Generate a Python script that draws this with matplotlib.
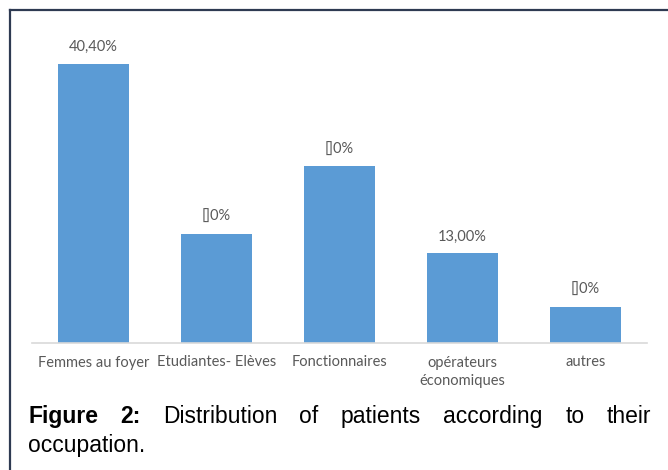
import matplotlib
matplotlib.use("Agg")
import matplotlib.pyplot as plt
from matplotlib.lines import Line2D

# ─── DATA ─────────────────────────────────────────────────────────────────────

categories = ["Femmes au foyer", "Etudiantes- Elèves", "Fonctionnaires",
              "opérateurs\néconomiques", "autres"]
values     = [40.4, 15.8, 25.6, 13.0, 5.2]
labels     = ["40,40%", "[]0%", "[]0%", "13,00%", "[]0%"]

caption_line1 = ["Figure", "2:", "Distribution", "of", "patients", "according", "to", "their"]
caption_line2 = "occupation."

# ─── STYLE ────────────────────────────────────────────────────────────────────

BAR_COLOR   = "#5B9BD5"
TEXT_COLOR  = "#595959"
AXIS_COLOR  = "#D9D9D9"
FRAME_COLOR = "#2E3A52"
CHART_FONT  = "Lato"
W, H, DPI   = 668, 470, 100

fig = plt.figure(figsize=(W / DPI, H / DPI), dpi=DPI)
fig.patch.set_facecolor("white")

# axes placed in pixel terms: baseline at y=343, x from 32 to 647
ymax = 45
ax = fig.add_axes([32 / W, (H - 343) / H, 615 / W, (ymax * 6.906) / H])

x = range(len(categories))
bars = ax.bar(x, values, width=0.57, color=BAR_COLOR, zorder=2)

for rect, lab in zip(bars, labels):
    ax.annotate(lab, (rect.get_x() + rect.get_width() / 2, rect.get_height()),
                xytext=(0, 7), textcoords="offset points",
                ha="center", va="bottom", fontsize=10.5,
                family=CHART_FONT, color=TEXT_COLOR)

ax.set_xlim(-0.5, len(categories) - 0.5)
ax.set_ylim(0, ymax)
ax.set_xticks(list(x))
ax.set_xticklabels(categories, fontsize=10.5, family=CHART_FONT,
                   color=TEXT_COLOR, linespacing=1.4)
ax.tick_params(axis="x", length=0, pad=9)
ax.set_yticks([])
for side in ["left", "right", "top"]:
    ax.spines[side].set_visible(False)
ax.spines["bottom"].set_color(AXIS_COLOR)
ax.spines["bottom"].set_linewidth(1.2)

# frame lines (top and left)
fig.add_artist(Line2D([9.5 / W, 1], [1 - 10 / H, 1 - 10 / H],
                      transform=fig.transFigure, color=FRAME_COLOR, lw=1.6))
fig.add_artist(Line2D([9.5 / W, 9.5 / W], [0, 1 - 10 / H],
                      transform=fig.transFigure, color=FRAME_COLOR, lw=1.6))

# ─── CAPTION (justified first line) ───────────────────────────────────────────

cap_font = dict(family="Liberation Sans", fontsize=16.5, color="black")
left_px, right_px = 28, 651
y1 = 1 - 423 / H
y2 = 1 - 452 / H

words = []
for i, w in enumerate(caption_line1):
    t = fig.text(0, y1, w, ha="left", va="baseline",
                 fontweight="bold" if i < 2 else "normal", **cap_font)
    words.append(t)

fig.canvas.draw()
renderer = fig.canvas.get_renderer()
widths = [t.get_window_extent(renderer).width for t in words]
gap = (right_px - left_px - sum(widths)) / (len(words) - 1)
pos = left_px
for t, wd in zip(words, widths):
    t.set_x(pos / W)
    pos += wd + gap

fig.text(left_px / W, y2, caption_line2, ha="left", va="baseline", **cap_font)

fig.savefig("out.png", dpi=DPI)
